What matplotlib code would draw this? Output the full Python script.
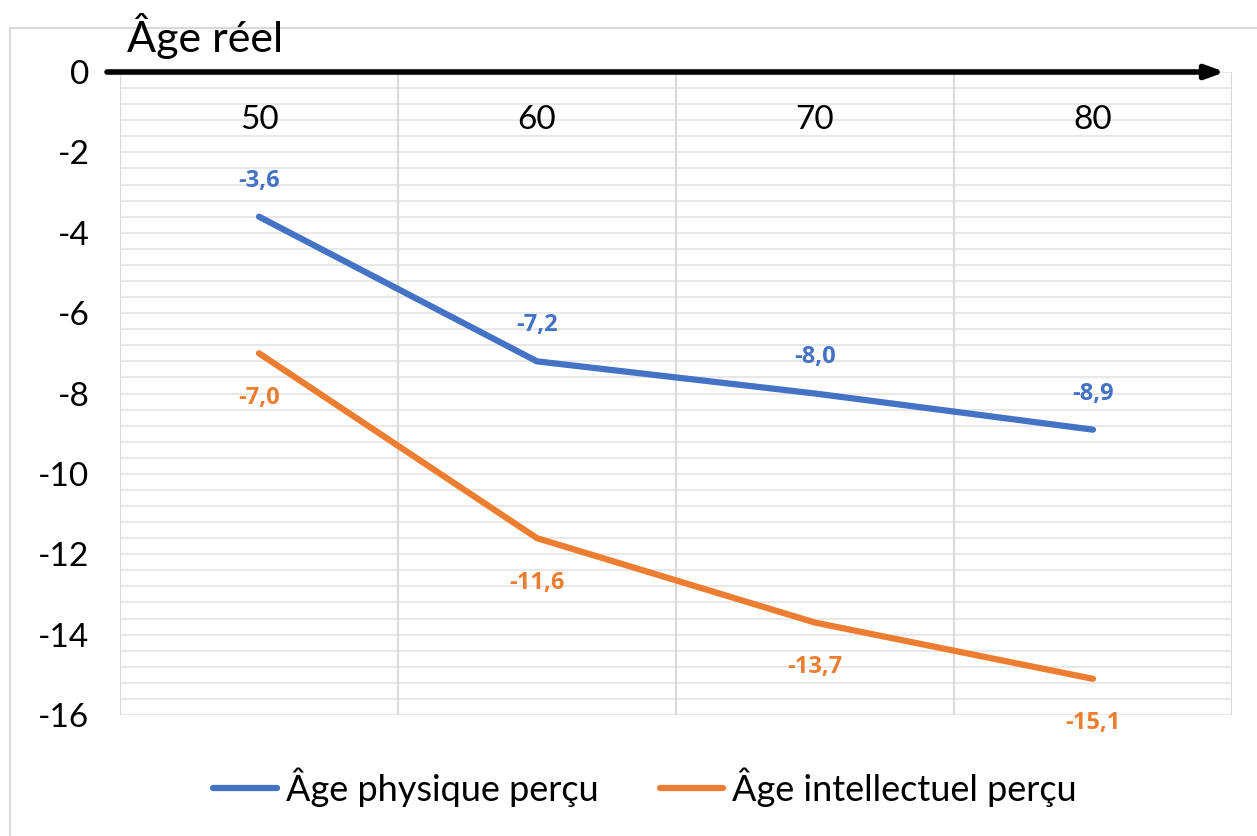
import numpy as np
import matplotlib
matplotlib.use('Agg')
import matplotlib.pyplot as plt
from matplotlib.patches import Rectangle

# данные
categories = ['50', '60', '70', '80']
physique = [-3.6, -7.2, -8.0, -8.9]
intellectuel = [-7.0, -11.6, -13.7, -15.1]
yticks = [0, -2, -4, -6, -8, -10, -12, -14, -16]

blue = '#4472C4'
orange = '#ED7D31'

plt.rcParams['font.family'] = ['Lato', 'DejaVu Sans']

fig = plt.figure(figsize=(12.57, 8.36), dpi=100)

# рамка вокруг диаграммы
fig.patches.append(Rectangle((10 / 1257, -0.1), 1.2, 1.1 - 28 / 836,
                             transform=fig.transFigure, fill=False,
                             edgecolor='#d9d9d9', linewidth=1.5))

ax = fig.add_axes([120 / 1257, 1 - 715 / 836, 1112 / 1257, 643 / 836])
x = np.arange(len(categories))
ax.set_xlim(-0.5, len(categories) - 0.5)
ax.set_ylim(-16, 0)

# сетка
for yv in np.arange(0, -16.01, -0.4):
    ax.axhline(yv, color='#e8e8e8', linewidth=1.5, zorder=0)
for xv in np.arange(-0.5, len(categories), 1.0):
    ax.axvline(xv, color='#d9d9d9', linewidth=1.5, zorder=0)

for s in ax.spines.values():
    s.set_visible(False)

ax.plot(x, physique, color=blue, linewidth=4.5, solid_capstyle='round',
        label='Âge physique perçu', zorder=3)
ax.plot(x, intellectuel, color=orange, linewidth=4.5, solid_capstyle='round',
        label='Âge intellectuel perçu', zorder=3)

# подписи значений
lab_font = ['Open Sans', 'DejaVu Sans']
for xi, v in zip(x, physique):
    ax.annotate(f'{v:.1f}'.replace('.', ','), (xi, v), xytext=(0, 26),
                textcoords='offset points', ha='center', va='center',
                color=blue, fontsize=17, fontweight='bold', family=lab_font)
for xi, v in zip(x, intellectuel):
    ax.annotate(f'{v:.1f}'.replace('.', ','), (xi, v), xytext=(0, -32),
                textcoords='offset points', ha='center', va='center',
                color=orange, fontsize=17, fontweight='bold', family=lab_font)

# подписи категорий внутри области
ax.set_xticks([])
for xi, c in zip(x, categories):
    ax.text(xi, -1.2, c, ha='center', va='center', fontsize=24, color='black')

ax.set_yticks(yticks)
ax.set_yticklabels([str(t) for t in yticks], fontsize=24)
ax.tick_params(axis='y', length=0, pad=22)

# ось со стрелкой
ax.annotate('', xy=(1225 / 1112 - 120 / 1112, 1.0), xytext=(-13 / 1112, 1.0),
            xycoords='axes fraction', textcoords='axes fraction',
            arrowprops=dict(arrowstyle='-|>,head_length=1.1,head_width=0.4',
                            color='black', linewidth=4, shrinkA=0, shrinkB=0),
            annotation_clip=False, zorder=5)
fig.text(127 / 1257, 1 - 52 / 836, 'Âge réel', fontsize=31, ha='left',
         va='baseline')

fig.legend(*ax.get_legend_handles_labels(), loc='center',
           bbox_to_anchor=(645 / 1257, 1 - 787 / 836), ncol=2, frameon=False,
           fontsize=26, handlelength=1.75, columnspacing=1.7, handletextpad=0.25)

fig.savefig('out.png', dpi=100)
